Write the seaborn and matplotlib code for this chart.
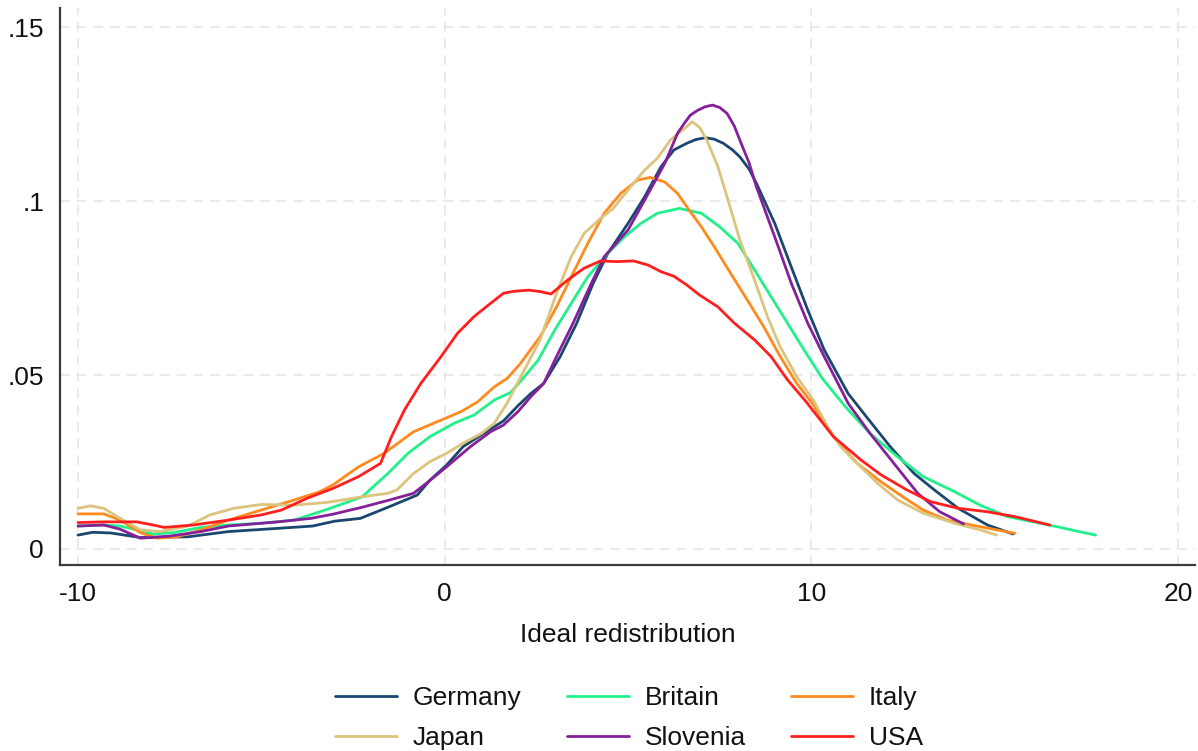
import matplotlib
matplotlib.use("Agg")
import matplotlib.pyplot as plt
import seaborn as sns
import pandas as pd

# ---------------- data ----------------
countries = ["Germany", "Britain", "Italy", "Japan", "Slovenia", "USA"]
legend_order = ["Germany", "Japan", "Britain", "Slovenia", "Italy", "USA"]

germany_x = [-10.0, -9.6, -9.1, -8.3, -7.0, -5.9, -4.6, -3.6, -3.0, -2.3, -1.5, -0.75, -0.4, 0.05, 0.5, 1.0,
             1.6, 2.0, 2.35, 2.7, 3.15, 3.6, 4.05, 4.45, 5.0, 5.45, 5.9, 6.25, 6.6, 6.85, 7.1, 7.35, 7.6, 7.85,
             8.05, 8.3, 8.5, 9.0, 9.45, 9.9, 10.35, 11.0, 11.5, 12.15, 12.8, 13.35, 14.0, 14.8, 15.5]
germany_y = [0.0040, 0.0048, 0.0046, 0.0033, 0.0035, 0.0050, 0.0059, 0.0066, 0.0080, 0.0088, 0.0122, 0.0155,
             0.0198, 0.0241, 0.0294, 0.0328, 0.0368, 0.0412, 0.0447, 0.0476, 0.0553, 0.0649, 0.0764, 0.0850,
             0.0936, 0.1012, 0.1099, 0.1147, 0.1166, 0.1177, 0.1182, 0.1178, 0.1166, 0.1147, 0.1127, 0.1092,
             0.1051, 0.0936, 0.0811, 0.0687, 0.0572, 0.0447, 0.0380, 0.0294, 0.0217, 0.0170, 0.0117, 0.0069,
             0.0043]

slovenia_x = [-10.0, -9.3, -8.85, -8.3, -7.5, -6.65, -5.9, -4.55, -3.65, -3.05, -2.25, -1.5, -0.85, -0.45, 0.05,
              0.7, 1.25, 1.6, 2.0, 2.35, 2.7, 3.05, 3.5, 4.0, 4.35, 5.0, 5.5, 6.0, 6.35, 6.55, 6.7, 6.9, 7.1,
              7.3, 7.5, 7.7, 7.9, 8.05, 8.3, 8.5, 9.0, 9.45, 9.9, 10.35, 11.0, 11.6, 12.25, 12.9, 13.5, 14.15]
slovenia_y = [0.0066, 0.0069, 0.0057, 0.0031, 0.0037, 0.0050, 0.0066, 0.0078, 0.0088, 0.0100, 0.0120, 0.0141,
              0.0160, 0.0193, 0.0236, 0.0294, 0.0337, 0.0356, 0.0395, 0.0438, 0.0476, 0.0553, 0.0649, 0.0764,
              0.0840, 0.0917, 0.1012, 0.1108, 0.1195, 0.1226, 0.1247, 0.1261, 0.1271, 0.1276, 0.1269, 0.1252,
              0.1215, 0.1175, 0.1110, 0.1041, 0.0897, 0.0764, 0.0649, 0.0553, 0.0419, 0.0332, 0.0246, 0.0160,
              0.0107, 0.0072]

japan_x = [-10.0, -9.65, -9.3, -8.85, -8.3, -7.75, -7.0, -6.4, -5.75, -5.0, -4.1, -3.2, -2.25, -1.55, -1.3,
           -0.85, -0.4, 0.05, 0.5, 1.0, 1.35, 1.7, 2.05, 2.6, 3.05, 3.45, 3.8, 4.25, 4.6, 5.0, 5.45, 5.8, 6.15,
           6.6, 6.75, 6.95, 7.15, 7.45, 7.7, 8.05, 8.45, 8.8, 9.15, 9.6, 10.05, 10.45, 10.8, 11.25, 11.8, 12.35,
           13.05, 13.9, 14.6, 15.05]
japan_y = [0.0117, 0.0124, 0.0117, 0.0088, 0.0055, 0.0050, 0.0066, 0.0098, 0.0117, 0.0128, 0.0126, 0.0134,
           0.0150, 0.0160, 0.0170, 0.0217, 0.0251, 0.0275, 0.0304, 0.0332, 0.0361, 0.0419, 0.0490, 0.0601,
           0.0735, 0.0840, 0.0907, 0.0950, 0.0979, 0.1032, 0.1089, 0.1123, 0.1175, 0.1214, 0.1228, 0.1212,
           0.1175, 0.1099, 0.1012, 0.0888, 0.0773, 0.0668, 0.0581, 0.0495, 0.0428, 0.0350, 0.0294, 0.0246,
           0.0189, 0.0141, 0.0103, 0.0074, 0.0055, 0.0040]

italy_x = [-10.0, -9.3, -8.85, -8.3, -7.85, -7.3, -6.65, -5.9, -5.0, -4.1, -3.4, -3.05, -2.35, -1.65, -0.85,
           -0.2, 0.45, 0.9, 1.35, 1.7, 2.05, 2.6, 3.05, 3.45, 3.9, 4.35, 4.8, 5.25, 5.6, 6.0, 6.35, 6.7, 7.0,
           7.35, 7.8, 8.25, 8.7, 9.15, 9.6, 10.05, 10.6, 11.25, 11.9, 12.55, 13.05, 13.7, 14.6, 15.55]
italy_y = [0.0101, 0.0101, 0.0083, 0.0047, 0.0031, 0.0035, 0.0055, 0.0083, 0.0112, 0.0141, 0.0165, 0.0184,
           0.0236, 0.0275, 0.0337, 0.0366, 0.0395, 0.0423, 0.0466, 0.0490, 0.0531, 0.0610, 0.0696, 0.0782,
           0.0878, 0.0965, 0.1022, 0.1060, 0.1068, 0.1055, 0.1022, 0.0969, 0.0926, 0.0869, 0.0792, 0.0716,
           0.0639, 0.0553, 0.0476, 0.0415, 0.0323, 0.0246, 0.0193, 0.0146, 0.0112, 0.0083, 0.0064, 0.0045]

britain_x = [-10.0, -9.3, -8.85, -8.4, -7.95, -7.4, -6.65, -5.9, -5.0, -4.1, -3.2, -2.25, -1.55, -1.0, -0.4,
             0.25, 0.8, 1.35, 1.8, 2.1, 2.55, 3.0, 3.45, 3.9, 4.45, 4.9, 5.35, 5.8, 6.4, 7.0, 7.5, 8.0, 8.45,
             8.9, 9.35, 9.8, 10.3, 10.7, 11.0, 11.6, 12.35, 13.05, 13.9, 14.6, 15.35, 16.05, 16.7, 17.3, 17.75]
britain_y = [0.0066, 0.0069, 0.0066, 0.0055, 0.0043, 0.0047, 0.0062, 0.0069, 0.0074, 0.0083, 0.0114, 0.0150,
             0.0217, 0.0275, 0.0323, 0.0361, 0.0385, 0.0428, 0.0450, 0.0486, 0.0543, 0.0629, 0.0706, 0.0782,
             0.0850, 0.0897, 0.0936, 0.0965, 0.0979, 0.0965, 0.0926, 0.0878, 0.0802, 0.0725, 0.0649, 0.0572,
             0.0490, 0.0438, 0.0400, 0.0332, 0.0265, 0.0208, 0.0165, 0.0126, 0.0093, 0.0078, 0.0064, 0.0050,
             0.0040]

usa_x = [-10.0, -9.3, -8.4, -7.95, -7.65, -6.85, -5.9, -5.0, -4.45, -3.75, -3.05, -2.35, -1.75, -1.45, -1.1,
         -0.65, -0.1, 0.35, 0.8, 1.25, 1.6, 1.9, 2.3, 2.6, 2.9, 3.35, 3.8, 4.25, 4.7, 5.15, 5.55, 5.9, 6.25,
         6.6, 6.95, 7.45, 7.9, 8.45, 8.9, 9.35, 9.85, 10.6, 11.35, 11.9, 12.6, 13.25, 14.0, 14.8, 15.55, 16.5]
usa_y = [0.0076, 0.0078, 0.0078, 0.0069, 0.0062, 0.0069, 0.0083, 0.0098, 0.0112, 0.0146, 0.0174, 0.0208,
         0.0246, 0.0323, 0.0399, 0.0476, 0.0553, 0.0620, 0.0668, 0.0706, 0.0735, 0.0741, 0.0744, 0.0740,
         0.0733, 0.0773, 0.0807, 0.0828, 0.0826, 0.0828, 0.0816, 0.0797, 0.0784, 0.0759, 0.0730, 0.0696,
         0.0649, 0.0601, 0.0553, 0.0486, 0.0424, 0.0323, 0.0256, 0.0213, 0.0170, 0.0136, 0.0117, 0.0107,
         0.0093, 0.0069]

x_ticks = [-10, 0, 10, 20]
x_ticklabels = ["-10", "0", "10", "20"]
y_ticks = [0, 0.05, 0.10, 0.15]
y_ticklabels = ["0", ".05", ".1", ".15"]
x_label = "Ideal redistribution"

colors = {"Germany": "#1a476f", "Britain": "#22f08a", "Italy": "#ff8a1e",
          "Japan": "#dcc47c", "Slovenia": "#85209a", "USA": "#ff1f1f"}

series = {"Germany": (germany_x, germany_y), "Britain": (britain_x, britain_y),
          "Italy": (italy_x, italy_y), "Japan": (japan_x, japan_y),
          "Slovenia": (slovenia_x, slovenia_y), "USA": (usa_x, usa_y)}

frames = []
for c in countries:
    xs, ys = series[c]
    frames.append(pd.DataFrame({"x": xs, "y": ys, "country": c}))
df = pd.concat(frames, ignore_index=True)

# ---------------- style ----------------
sns.set_theme(style="white")
plt.rcParams["font.family"] = ["Liberation Sans", "DejaVu Sans"]
plt.rcParams["lines.scale_dashes"] = False
plt.rcParams["lines.solid_joinstyle"] = "round"

fig = plt.figure(figsize=(11.98, 7.51), dpi=100)
ax = fig.add_axes([60 / 1198, 186 / 751, 1135 / 1198, 557 / 751])

sns.lineplot(data=df, x="x", y="y", hue="country", hue_order=countries, palette=colors,
             sort=False, estimator=None, linewidth=2.0, ax=ax)

ax.set_xlim(-10.49, 20.46)
ax.set_ylim(-0.0046, 0.1555)
ax.set_xticks(x_ticks)
ax.set_xticklabels(x_ticklabels)
ax.set_yticks(y_ticks)
ax.set_yticklabels(y_ticklabels)

ax.grid(True, color="#e4e4e4", linestyle=(0, (7, 5)), linewidth=1.1)
ax.set_axisbelow(True)

for s in ["top", "right"]:
    ax.spines[s].set_visible(False)
for s in ["left", "bottom"]:
    ax.spines[s].set_color("#3a3a3a")
    ax.spines[s].set_linewidth(1.6)

ax.tick_params(axis="both", which="major", direction="out", length=8.5, width=1.4,
               color="#3a3a3a", labelsize=19, labelcolor="#111111")
ax.tick_params(axis="x", pad=4)
ax.tick_params(axis="y", pad=3)

ax.set_xlabel(x_label, fontsize=19, color="#111111", labelpad=12)
ax.set_ylabel("")

handles, labels = ax.get_legend_handles_labels()
ax.get_legend().remove()
hmap = dict(zip(labels, handles))
fig.legend([hmap[l] for l in legend_order], legend_order, loc="center",
           bbox_to_anchor=(0.525, 0.044), ncol=3, frameon=False, fontsize=19,
           handlelength=2.35, handletextpad=0.6, columnspacing=1.7, labelspacing=0.62,
           labelcolor="#111111")

fig.savefig("out.png", dpi=100)
